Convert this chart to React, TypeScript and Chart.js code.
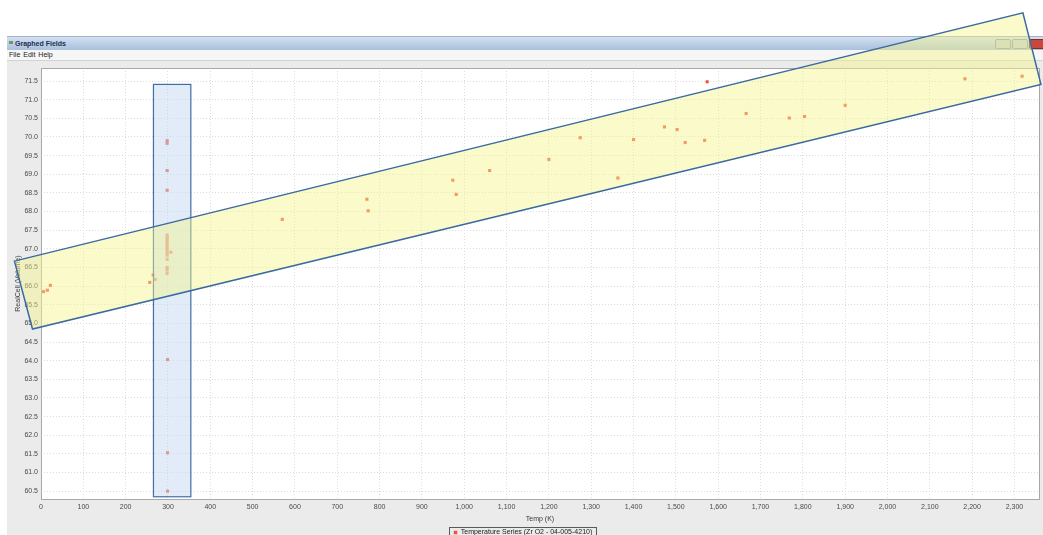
import React, { useEffect, useRef } from "react";
import { Chart, registerables } from "chart.js";

Chart.register(...registerables);

// ---- data ----
const tempK = [
  6, 15, 22, 257, 265, 270,
  298, 298, 298, 298,
  298, 298, 298, 298, 298, 298, 298, 298, 298, 298,
  307, 298, 298, 298, 298,
  299, 299, 299,
  570, 770, 773, 973, 981, 1060, 1200, 1274, 1363, 1400,
  1473, 1503, 1522, 1568, 1574, 1666, 1768, 1804, 1900, 2183, 2318,
];
const cellVolume = [
  65.85, 65.89, 66.02, 66.1, 66.3, 66.18,
  69.9, 69.83, 69.1, 68.57,
  67.37, 67.32, 67.27, 67.21, 67.15, 67.1, 67.03, 66.97, 66.9, 66.83,
  66.91, 66.72, 66.5, 66.43, 66.34,
  64.03, 61.53, 60.5,
  67.79, 68.33, 68.02, 68.84, 68.46, 69.1, 69.4, 69.98, 68.9, 69.93,
  70.27, 70.2, 69.85, 69.91, 71.48, 70.63, 70.51, 70.55, 70.85, 71.56, 71.63,
];

const seriesLabel = "Temperature Series (Zr O2 - 04-005-4210)";
const xTitle = "Temp (K)";
const yTitle = "RealCell (Volume)";
const xRange = [0, 2358];
const yRange = [60.29, 71.85];
const xStep = 100;
const yStep = 0.5;

// annotation shapes, in data units
const roomTempBoxX = [265.7, 354];
const roomTempBoxY = [60.35, 71.41];
const trendBandX = [-62.8, 2320, 2362.6, -20.1];
const trendBandY = [66.67, 73.33, 71.41, 64.85];

const FONT = "'Liberation Sans', Arial, sans-serif";

const plotFrame = {
  id: "plotFrame",
  beforeDraw(chart: any) {
    const { ctx, chartArea: a } = chart;
    ctx.save();
    ctx.fillStyle = "#ffffff";
    ctx.fillRect(a.left, a.top, a.right - a.left, a.bottom - a.top);
    ctx.restore();
  },
  afterDatasetsDraw(chart: any) {
    const { ctx, chartArea: a } = chart;
    ctx.save();
    ctx.strokeStyle = "#a8a8a8";
    ctx.lineWidth = 1;
    ctx.strokeRect(Math.round(a.left) + 0.5, Math.round(a.top) + 0.5, Math.round(a.right - a.left), Math.round(a.bottom - a.top));
    ctx.restore();
  },
};

const overlays = {
  id: "overlays",
  afterDraw(chart: any) {
    const { ctx } = chart;
    const xs = chart.scales.x;
    const ys = chart.scales.y;
    ctx.save();
    // room-temperature selection box
    const bx0 = xs.getPixelForValue(roomTempBoxX[0]);
    const bx1 = xs.getPixelForValue(roomTempBoxX[1]);
    const by0 = ys.getPixelForValue(roomTempBoxY[1]);
    const by1 = ys.getPixelForValue(roomTempBoxY[0]);
    ctx.fillStyle = "rgba(196, 218, 242, 0.5)";
    ctx.fillRect(bx0, by0, bx1 - bx0, by1 - by0);
    ctx.strokeStyle = "#3f6fa6";
    ctx.lineWidth = 1.2;
    ctx.strokeRect(bx0, by0, bx1 - bx0, by1 - by0);
    // trend band
    ctx.beginPath();
    trendBandX.forEach((v, i) => {
      const px = xs.getPixelForValue(v);
      const py = ys.getPixelForValue(trendBandY[i]);
      if (i === 0) ctx.moveTo(px, py);
      else ctx.lineTo(px, py);
    });
    ctx.closePath();
    ctx.fillStyle = "rgba(245, 245, 140, 0.45)";
    ctx.fill();
    ctx.strokeStyle = "#3a6aa0";
    ctx.lineWidth = 1.5;
    ctx.stroke();
    ctx.restore();
  },
};

const legendFrame = {
  id: "legendFrame",
  afterDraw(chart: any) {
    const lg = chart.legend;
    if (!lg || !lg.legendHitBoxes || !lg.legendHitBoxes.length) return;
    const h = lg.legendHitBoxes[0];
    const { ctx } = chart;
    ctx.save();
    ctx.strokeStyle = "#5a5a5a";
    ctx.lineWidth = 1;
    ctx.strokeRect(Math.round(h.left - 5) + 0.5, Math.round(h.top - 2) + 0.5, Math.round(h.width + 9), Math.round(h.height + 6));
    ctx.restore();
  },
};

function ChartCanvas() {
  const ref = useRef<HTMLCanvasElement | null>(null);
  useEffect(() => {
    if (!ref.current) return;
    const points = tempK.map((t, i) => ({ x: t, y: cellVolume[i] }));
    const tickFont = { family: FONT, size: 7 };
    const chart = new Chart(ref.current, {
      type: "scatter",
      data: {
        datasets: [
          {
            label: seriesLabel,
            data: points,
            pointStyle: "rect",
            pointRadius: 2.2,
            pointBorderWidth: 0,
            backgroundColor: "#f2523f",
            borderColor: "#f2523f",
          },
        ],
      },
      options: {
        responsive: false,
        animation: false,
        events: [],
        layout: { padding: { top: 68, left: 7, right: 4, bottom: 2 } },
        plugins: {
          tooltip: { enabled: false },
          legend: {
            position: "bottom",
            labels: {
              usePointStyle: true,
              boxWidth: 3.5,
              boxHeight: 3.5,
              padding: 6,
              color: "#222",
              font: { family: FONT, size: 7 },
            },
          },
        },
        scales: {
          x: {
            type: "linear",
            min: xRange[0],
            max: xRange[1],
            afterFit(s: any) {
              s.height = 24;
            },
            ticks: {
              stepSize: xStep,
              includeBounds: false,
              autoSkip: false,
              maxRotation: 0,
              padding: 4,
              color: "#4a4a4a",
              font: tickFont,
              callback: (v: any) => Number(v).toLocaleString("en-US"),
            },
            grid: { color: "#dcdcdc", drawTicks: false, lineWidth: 1 },
            border: { display: false, dash: [1, 2] },
            title: {
              display: true,
              text: xTitle,
              color: "#3a3a3a",
              font: tickFont,
              padding: { top: 0, bottom: 0 },
            },
          },
          y: {
            type: "linear",
            min: yRange[0],
            max: yRange[1],
            afterFit(s: any) {
              s.width = 34;
            },
            ticks: {
              stepSize: yStep,
              includeBounds: false,
              autoSkip: false,
              padding: 3,
              color: "#4a4a4a",
              font: tickFont,
              callback: (v: any) => Number(v).toFixed(1),
            },
            grid: { color: "#dcdcdc", drawTicks: false, lineWidth: 1 },
            border: { display: false, dash: [1, 2] },
            title: {
              display: true,
              text: yTitle,
              color: "#3a3a3a",
              font: tickFont,
              padding: { top: 7, bottom: 2 },
            },
          },
        },
      },
      plugins: [plotFrame, overlays, legendFrame],
    } as any);
    return () => chart.destroy();
  }, []);
  return (
    <canvas
      ref={ref}
      width={1043}
      height={548}
      style={{ position: "absolute", left: 0, top: 0, display: "block" }}
    />
  );
}

export default function App() {
  const uiFont = FONT;
  return (
    <div
      style={{
        position: "fixed",
        left: 0,
        top: 0,
        width: 1043,
        height: 535,
        overflow: "hidden",
        background: "#ffffff",
      }}
    >
      {/* window title bar */}
      <div
        style={{
          position: "absolute",
          left: 7,
          right: 0,
          top: 36,
          height: 13,
          background: "linear-gradient(#d3e0f0, #aac0dd)",
          borderTop: "1px solid #9fb3cf",
        }}
      >
        <div style={{ position: "absolute", left: 2, top: 4, width: 4, height: 3, background: "#6a9a62" }} />
        <div
          style={{
            position: "absolute",
            left: 8,
            top: 1,
            font: `bold 7px ${uiFont}`,
            lineHeight: "11px",
            color: "#1d2f52",
          }}
        >
          Graphed Fields
        </div>
        <div style={{ position: "absolute", left: 988, top: 2, width: 14, height: 8, background: "#c6cfdb", border: "1px solid #8f9cb0", borderRadius: 2 }} />
        <div style={{ position: "absolute", left: 1005, top: 2, width: 14, height: 8, background: "#c6cfdb", border: "1px solid #8f9cb0", borderRadius: 2 }} />
        <div style={{ position: "absolute", left: 1022, top: 2, width: 14, height: 8, background: "#c9483e", border: "1px solid #8a2a22", borderRadius: 2 }} />
      </div>
      {/* menu bar */}
      <div
        style={{
          position: "absolute",
          left: 7,
          right: 0,
          top: 50,
          height: 10,
          background: "#f6f6f6",
          borderBottom: "1px solid #d2d2d2",
          font: `7px ${uiFont}`,
          lineHeight: "10px",
          color: "#222",
        }}
      >
        <span style={{ marginLeft: 2, color: "#222" }}>File</span>
        <span style={{ marginLeft: 3, color: "#222" }}>Edit</span>
        <span style={{ marginLeft: 3, color: "#222" }}>Help</span>
      </div>
      {/* panel */}
      <div
        style={{
          position: "absolute",
          left: 7,
          right: 0,
          top: 61,
          bottom: 0,
          background: "#ebebeb",
        }}
      />
      <ChartCanvas />
    </div>
  );
}
